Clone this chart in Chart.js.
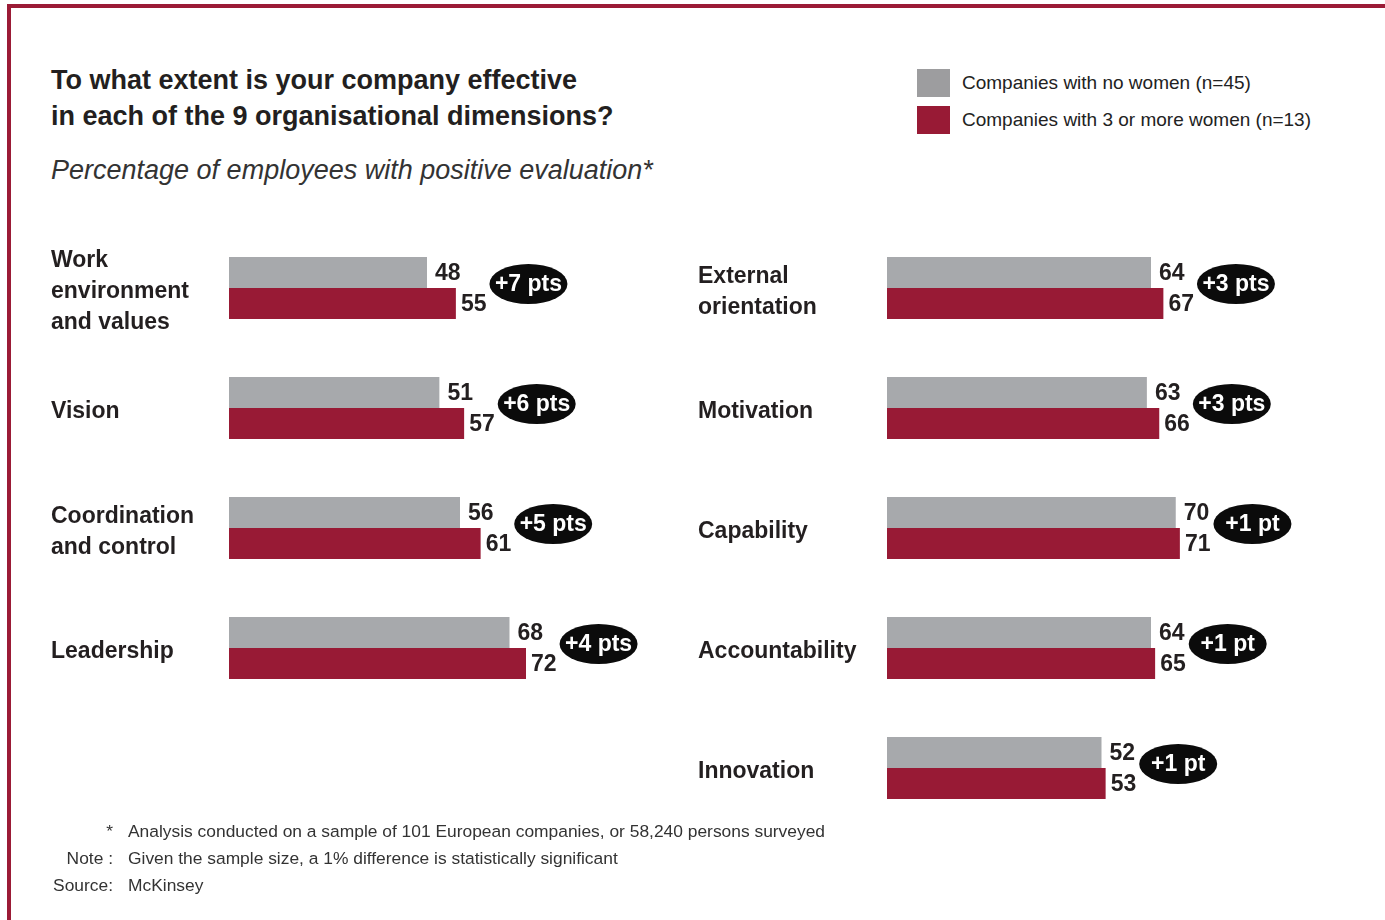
<!DOCTYPE html>
<html>
<head>
<meta charset="utf-8">
<script src="https://cdn.jsdelivr.net/npm/chart.js@4"></script>
<style>
  body { margin: 0; background: #fff; font-family: "Liberation Sans", Arial, sans-serif; color: #231f20; }
  #page { position: relative; width: 1385px; height: 920px; overflow: hidden; }
  #frame { position: absolute; left: 7px; top: 4px; width: 1400px; height: 940px;
    border-top: 4px solid #9b1b36; border-left: 4px solid #9b1b36; }
  #title { position: absolute; left: 51px; top: 62px; font-size: 27px; font-weight: bold; line-height: 36px; }
  #subtitle { position: absolute; left: 51px; top: 154px; font-size: 27px; font-style: italic; line-height: 32px; color: #333; }
  #legend { position: absolute; left: 917px; top: 64px; }
  .leg { display: flex; align-items: center; height: 37px; font-size: 19px; color: #222; }
  .sw { width: 33px; height: 28px; margin-right: 12px; }
  canvas { position: absolute; }
  #notes { position: absolute; left: 40px; top: 818px; font-size: 17.4px; color: #333; line-height: 27px; }
  #notes div { display: flex; }
  #notes .k { width: 73px; text-align: right; margin-right: 15px; }
</style>
</head>
<body>
<div id="page">
  <div id="frame"></div>
  <div id="title">To what extent is your company effective<br>in each of the 9 organisational dimensions?</div>
  <div id="subtitle">Percentage of employees with positive evaluation*</div>
  <div id="legend"></div>
  <canvas id="left" width="600" height="480" style="left:51px; top:228px;"></canvas>
  <canvas id="right" width="620" height="600" style="left:698px; top:228px;"></canvas>
  <div id="notes">
    <div><span class="k">*</span><span>Analysis conducted on a sample of 101 European companies, or 58,240 persons surveyed</span></div>
    <div><span class="k">Note :</span><span>Given the sample size, a 1% difference is statistically significant</span></div>
    <div><span class="k">Source:</span><span>McKinsey</span></div>
  </div>
</div>
<script>
const seriesNames = ["Companies with no women (n=45)", "Companies with 3 or more women (n=13)"];
const seriesColors = ["#a7a9ac", "#981a35"];

const leftCategories = [["Work", "environment", "and values"], "Vision", ["Coordination", "and control"], "Leadership"];
const leftNoWomen = [48, 51, 56, 68];
const leftThreeWomen = [55, 57, 61, 72];

const rightCategories = [["External", "orientation"], "Motivation", "Capability", "Accountability", "Innovation"];
const rightNoWomen = [64, 63, 70, 64, 52];
const rightThreeWomen = [67, 66, 71, 65, 53];

const FONT = '"Liberation Sans", Arial, sans-serif';

// legend
const legend = document.getElementById("legend");
seriesNames.forEach((name, i) => {
  const row = document.createElement("div");
  row.className = "leg";
  row.innerHTML = `<div class="sw" style="background:${i === 0 ? "#9d9d9f" : seriesColors[1]}"></div>${name}`;
  legend.appendChild(row);
});

// value labels + difference badges
const barNotes = {
  id: "barNotes",
  afterDatasetsDraw(chart) {
    const ctx = chart.ctx;
    const a = chart.getDatasetMeta(0).data;
    const b = chart.getDatasetMeta(1).data;
    const va = chart.data.datasets[0].data;
    const vb = chart.data.datasets[1].data;
    ctx.save();
    ctx.textBaseline = "middle";
    a.forEach((barA, i) => {
      const barB = b[i];
      ctx.font = "bold 23px " + FONT;
      ctx.textAlign = "left";
      ctx.fillStyle = "#231f20";
      const ta = String(va[i]), tb = String(vb[i]);
      const xa = barA.x + 8, xb = barB.x + 5;
      ctx.fillText(ta, xa, barA.y + 1);
      ctx.fillText(tb, xb, barB.y + 1);
      const end = Math.max(xa + ctx.measureText(ta).width, xb + ctx.measureText(tb).width) + 3;
      const diff = vb[i] - va[i];
      const txt = "+" + diff + (diff === 1 ? " pt" : " pts");
      const cx = end + 39, cy = (barA.y + barB.y) / 2 - 4;
      ctx.beginPath();
      ctx.ellipse(cx, cy, 39, 20, 0, 0, Math.PI * 2);
      ctx.fillStyle = "#0b0b0b";
      ctx.fill();
      ctx.fillStyle = "#ffffff";
      ctx.textAlign = "center";
      ctx.fillText(txt, cx, cy + 1);
    });
    ctx.restore();
  }
};

function makeChart(id, labels, noWomen, threeWomen, axisWidth, padRight) {
  return new Chart(document.getElementById(id).getContext("2d"), {
    type: "bar",
    data: {
      labels: labels,
      datasets: [
        { label: seriesNames[0], data: noWomen, backgroundColor: seriesColors[0] },
        { label: seriesNames[1], data: threeWomen, backgroundColor: seriesColors[1] }
      ]
    },
    options: {
      indexAxis: "y",
      animation: false,
      responsive: false,
      devicePixelRatio: 1,
      layout: { padding: { left: 0, right: padRight, top: 0, bottom: 0 } },
      datasets: { bar: { categoryPercentage: 62 / 120, barPercentage: 1 } },
      plugins: { legend: { display: false }, tooltip: { enabled: false } },
      scales: {
        x: { display: false, min: 0, max: 100 },
        y: {
          grid: { display: false },
          border: { display: false },
          afterFit(scale) {
            scale.width = axisWidth;
            scale.paddingTop = 0;
            scale.paddingBottom = 0;
          },
          ticks: {
            autoSkip: false,
            crossAlign: "far",
            padding: 0,
            labelOffset: 4,
            color: "#231f20",
            font: { family: FONT, size: 23, weight: "bold", lineHeight: 1.35 }
          }
        }
      }
    },
    plugins: [barNotes]
  });
}

makeChart("left", leftCategories, leftNoWomen, leftThreeWomen, 178, 600 - 178 - 412.5);
makeChart("right", rightCategories, rightNoWomen, rightThreeWomen, 189, 620 - 189 - 412.5);
</script>
</body>
</html>
